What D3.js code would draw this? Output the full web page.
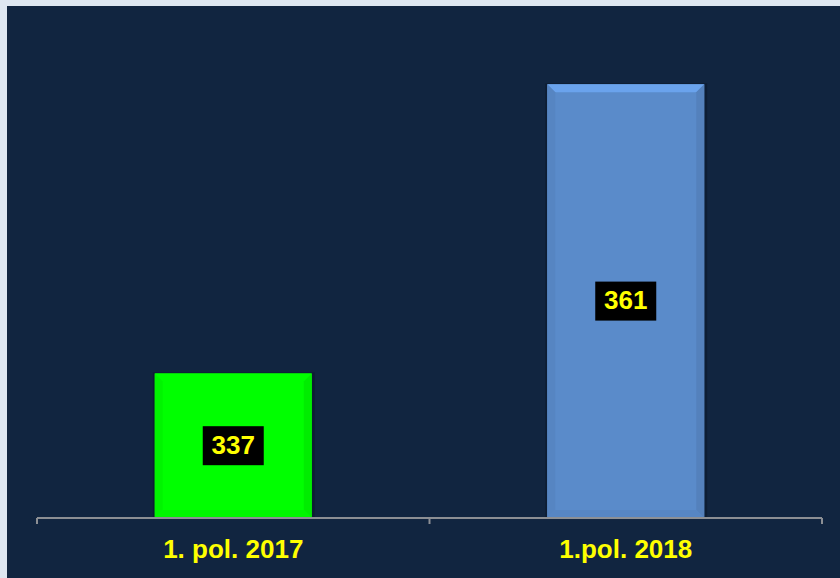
<!DOCTYPE html>
<html>
<head>
<meta charset="utf-8">
<script src="https://cdn.jsdelivr.net/npm/d3@7"></script>
<style>
  body { margin: 0; background: #dfe7f1; }
  svg { display: block; }
</style>
</head>
<body>
<div id="chart"></div>
<script>
  // data
  var categories = ['1. pol. 2017', '1.pol. 2018'];
  var values = [337, 361];
  var barColors = ['#00ff00', '#5a8bca'];

  var W = 840, H = 578;
  var margin = {top: 36, right: 18, bottom: 60, left: 37};

  var svg = d3.select('#chart').append('svg')
    .attr('width', W)
    .attr('height', H);

  // light frame + dark panel
  svg.append('rect').attr('width', W).attr('height', H).attr('fill', '#dfe7f1');
  svg.append('rect')
    .attr('x', 7).attr('y', 6)
    .attr('width', W - 7).attr('height', H - 6)
    .attr('fill', '#112540');

  var x = d3.scaleBand()
    .domain(categories)
    .range([margin.left, W - margin.right])
    .padding(0);

  var y = d3.scaleLinear()
    .domain([325, 365])
    .range([H - margin.bottom, margin.top]);

  var barW = x.bandwidth() * 0.4;
  var bev = 8;

  var bars = svg.selectAll('.bar')
    .data(values)
    .enter().append('g')
    .attr('class', 'bar');

  bars.each(function (d, i) {
    var g = d3.select(this);
    var x0 = x(categories[i]) + (x.bandwidth() - barW) / 2,
      x1 = x0 + barW,
      y0 = y(d),
      y1 = y(325);
    var c = d3.color(barColors[i]);

    // shadow
    g.append('rect')
      .attr('x', x0 - 2).attr('y', y0 - 1)
      .attr('width', barW + 5).attr('height', y1 - y0 + 1)
      .attr('fill', '#000').attr('opacity', 0.2);

    g.append('rect')
      .attr('x', x0).attr('y', y0)
      .attr('width', barW).attr('height', y1 - y0)
      .attr('fill', c.formatHex());

    // bevel: top lighter, sides / bottom a touch darker
    g.append('polygon')
      .attr('points', [[x0, y0], [x1, y0], [x1 - bev, y0 + bev], [x0 + bev, y0 + bev]].join(' '))
      .attr('fill', c.brighter(0.45).formatHex());
    g.append('polygon')
      .attr('points', [[x0, y0], [x0 + bev, y0 + bev], [x0 + bev, y1 - bev], [x0, y1]].join(' '))
      .attr('fill', c.darker(0.12).formatHex());
    g.append('polygon')
      .attr('points', [[x1, y0], [x1 - bev, y0 + bev], [x1 - bev, y1 - bev], [x1, y1]].join(' '))
      .attr('fill', c.darker(0.2).formatHex());
    g.append('polygon')
      .attr('points', [[x0, y1], [x0 + bev, y1 - bev], [x1 - bev, y1 - bev], [x1, y1]].join(' '))
      .attr('fill', c.darker(0.1).formatHex());

    // value label
    var cx = x0 + barW / 2,
      cy = (y0 + y1) / 2;
    g.append('rect')
      .attr('x', cx - 30.5).attr('y', cy - 19.5)
      .attr('width', 61).attr('height', 39)
      .attr('fill', '#000');
    g.append('text')
      .attr('x', cx).attr('y', cy + 1)
      .attr('text-anchor', 'middle')
      .attr('dominant-baseline', 'middle')
      .attr('font-family', 'Liberation Sans, Arial, sans-serif')
      .attr('font-weight', 'bold')
      .attr('font-size', 26)
      .attr('fill', '#ffff00')
      .text(d);
  });

  // axis
  var axis = svg.append('g')
    .attr('transform', 'translate(0,' + y(325) + ')')
    .call(d3.axisBottom(x).tickSize(0).tickPadding(22));
  axis.select('.domain').remove();
  axis.selectAll('text')
    .attr('font-family', 'Liberation Sans, Arial, sans-serif')
    .attr('font-weight', 'bold')
    .attr('font-size', 26)
    .attr('fill', '#ffff00');

  var xr = x.range();
  axis.append('line')
    .attr('x1', xr[0]).attr('x2', xr[1])
    .attr('stroke', '#8c8f94').attr('stroke-width', 2);
  axis.selectAll('.sep')
    .data([xr[0], x(categories[1]), xr[1]])
    .enter().append('line')
    .attr('x1', function (d) { return d; })
    .attr('x2', function (d) { return d; })
    .attr('y1', 0).attr('y2', 6)
    .attr('stroke', '#8c8f94').attr('stroke-width', 2);
</script>
</body>
</html>
